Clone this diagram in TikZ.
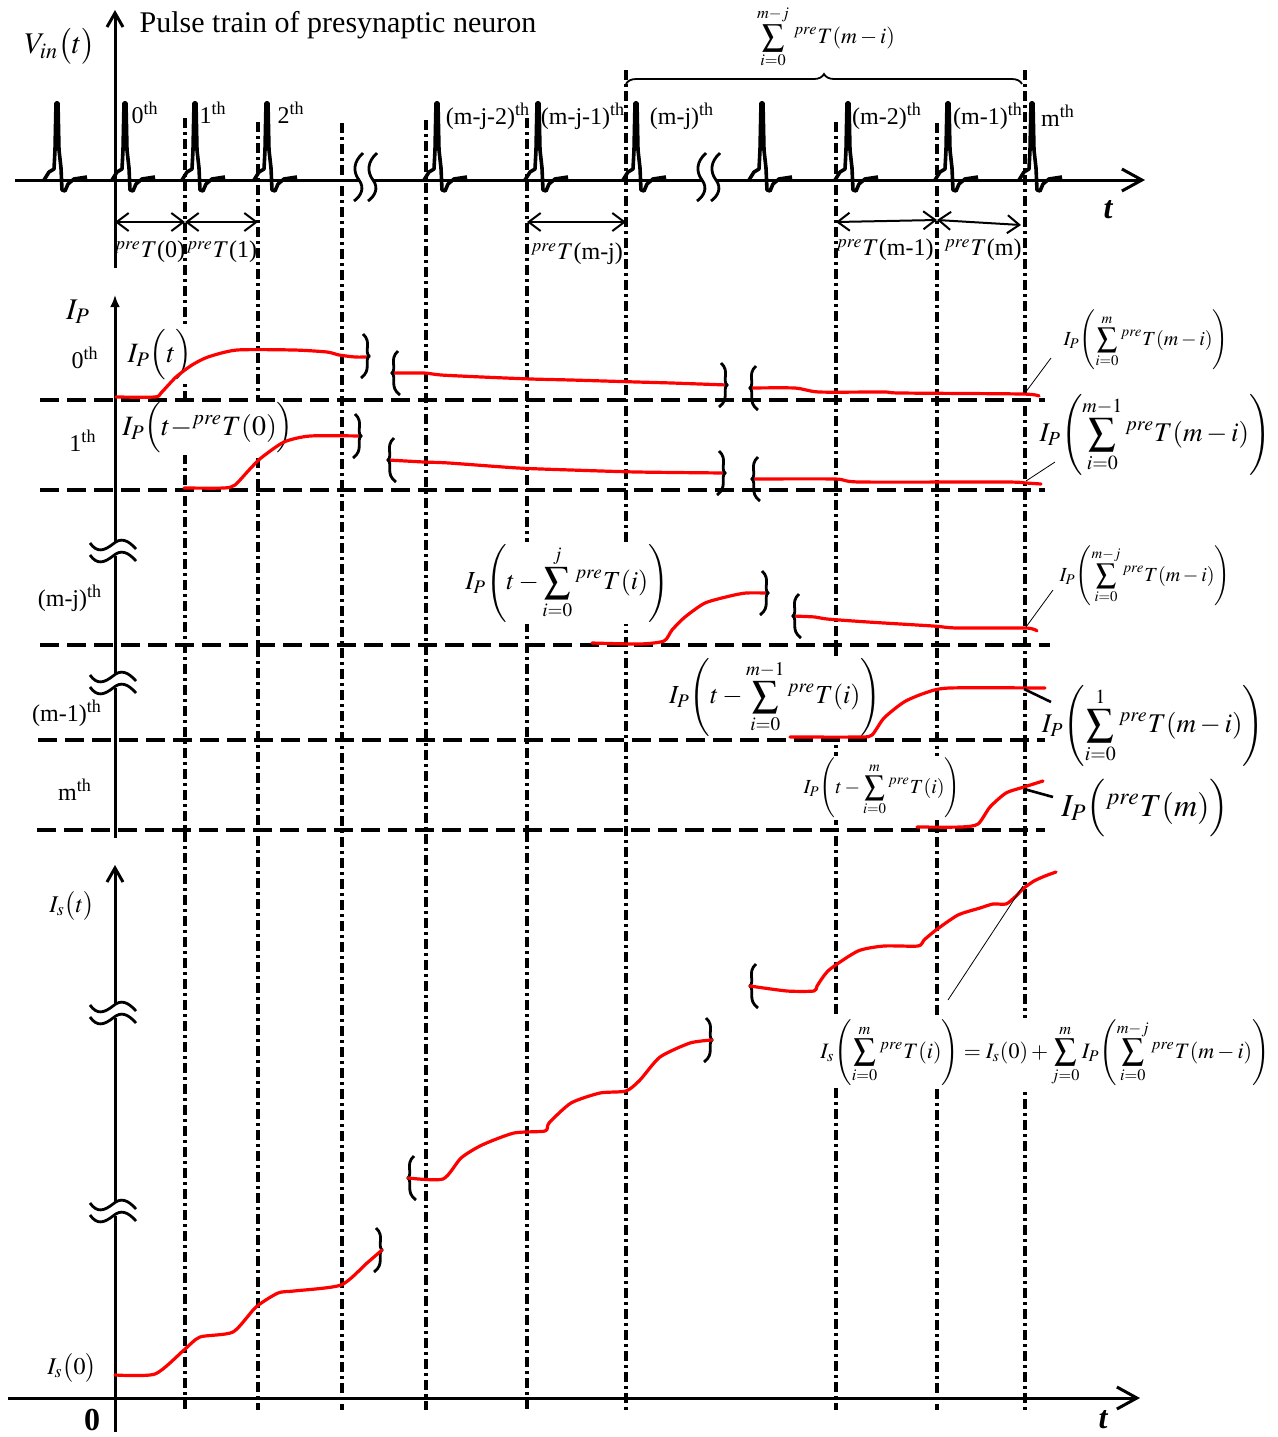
\documentclass[tikz,border=0pt]{standalone}
\usepackage{mathptmx}
\usepackage{fontspec}
\setmainfont{Liberation Serif}
\usetikzlibrary{arrows.meta,decorations.pathreplacing}

\begin{document}
\begin{tikzpicture}[x=0.5pt, y=-0.5pt,
  every node/.style={font=\fontsize{12}{14}\selectfont, inner sep=1pt},
  ax/.style={line width=1.5pt},
  vl/.style={line width=1.7pt, dash pattern=on 5pt off 2pt on 1.5pt off 2pt},
  hl/.style={line width=1.7pt, dash pattern=on 9.5pt off 4pt},
  cv/.style={red, line width=1.6pt, line join=round, line cap=round},
  sp/.style={line width=1.8pt, line join=round},
  bk/.style={line width=1.4pt},
  dm/.style={line width=1pt, {Straight Barb[length=6pt,width=9pt]}-{Straight Barb[length=6pt,width=9pt]}},
  ptr/.style={line width=0.4pt},
  ptk/.style={line width=1.3pt},
  wl/.style={fill=white}]

\fill[white] (0,0) rectangle (1278,1437);
\useasboundingbox (0,0) rectangle (1278,1437);

% ---------------- time grid ----------------
\foreach \x/\y in {185/118,258/122,342/123,426/120,527/118,626/70,836/122,937/123,1025/70}
  \draw[vl] (\x,\y) -- (\x,1410);

% ---------------- pulse train ----------------
\draw[ax, -{Straight Barb[length=7pt,width=8pt]}] (115,268) -- (115,10);
\draw[ax] (15,180) -- (359,180);
\draw[ax] (373,180) -- (702,180);
\draw[ax, -{Straight Barb[length=10pt,width=11pt]}] (716,180) -- (1145,180);
\foreach \s in {357,371,700,714}
  \draw[bk] (\s+6,153) .. controls (\s-4,162) and (\s-4,172) .. (\s+2,180) .. controls (\s+8,188) and (\s+4,196) .. (\s-3,201);
\foreach \p in {57,125,195,267,437,538,636,762,848,948,1032}
  \draw[sp] (\p-13,180) -- (\p-8,172) -- (\p-3,169) -- (\p-2,150) -- (\p-1,103) -- (\p+1,103) -- (\p+2,150) -- (\p+4,168) -- (\p+5,190) -- (\p+8,191) -- (\p+11,184) -- (\p+17,179) -- (\p+30,177);

\node[font=\fontsize{15}{18}\selectfont, inner sep=0pt] (vin) at (60,46) {$V_{in}\bigl(t\bigr)$};
\node[font=\fontsize{15}{18}\selectfont] (ttl) at (338,25) {Pulse train of presynaptic neuron};
\node (k0) at (145,113) {0\textsuperscript{th}};
\node (k1) at (213,113) {1\textsuperscript{th}};
\node (k2) at (291,113) {2\textsuperscript{th}};
\node (k3) at (488,116) {(m-j-2)\textsuperscript{th}};
\node (k4) at (583,116) {(m-j-1)\textsuperscript{th}};
\node (k5) at (682,116) {(m-j)\textsuperscript{th}};
\node (k6) at (887,116) {(m-2)\textsuperscript{th}};
\node (k7) at (988,116) {(m-1)\textsuperscript{th}};
\node (k8) at (1058,116) {m\textsuperscript{th}};
\node[font=\fontsize{16}{18}\selectfont\bfseries\itshape] (tt) at (1108,210) {t};

% periods
\coordinate (d0) at (115,222);
\coordinate (d1) at (185,222);
\coordinate (d2) at (258,222);
\coordinate (d3) at (527,222);
\coordinate (d4) at (626,222);
\coordinate (d5) at (836,222);
\coordinate (d6) at (937,220);
\coordinate (d7) at (1021,225);
\draw[dm] (d0) -- (d1);
\draw[dm] (d1) -- (d2);
\draw[dm] (d3) -- (d4);
\draw[dm] (d5) -- (d6);
\draw[dm] (d6) -- (d7);
\node (q0) at (150,252) {${}^{pre}T$(0)};
\node (q1) at (222,252) {${}^{pre}T$(1)};
\node (q2) at (577,254) {${}^{pre}T$(m-j)};
\node (q3) at (885,250) {${}^{pre}T$(m-1)};
\node (q4) at (983,250) {${}^{pre}T$(m)};

% brace over the last m-j periods
\coordinate (bl) at (626,84);
\coordinate (br) at (1022,84);
\draw[line width=0.9pt, decorate, decoration={brace, amplitude=5pt}] (bl) -- (br);
\node[font=\fontsize{11}{13}\selectfont] (bs) at (826,37) {$\displaystyle\sum_{i=0}^{m-j}\,{}^{pre}T(m-i)$};

% ---------------- postsynaptic currents ----------------
\draw[ax] (115,838) -- (115,688);
\draw[ax] (115,675) -- (115,556);
\draw[ax, -{Latex[length=6pt,width=5pt]}] (115,543) -- (115,295);
\foreach \y in {543,555,675,687,1005,1017,1203,1215}
  \draw[bk] (90,\y) .. controls (97,\y+10) and (104,\y+8) .. (113,\y+1) .. controls (121,\y-6) and (128,\y-3) .. (136,\y+6);

\node[font=\fontsize{15}{18}\selectfont] (ip) at (78,312) {$I_P$};
\node (r0) at (85,358) {0\textsuperscript{th}};
\node (r1) at (83,441) {1\textsuperscript{th}};
\node (rj) at (70,598) {(m-j)\textsuperscript{th}};
\node (rm1) at (67,713) {(m-1)\textsuperscript{th}};
\node (rm) at (75,790) {m\textsuperscript{th}};

\node[wl, font=\fontsize{14}{16}\selectfont] (l0) at (160,355) {$I_P\Bigl(t\Bigr)$};
\node[wl, font=\fontsize{14}{16}\selectfont] (l1) at (208,428) {$I_P\Bigl(t{-}{}^{pre}T(0)\Bigr)$};
\node[wl, font=\fontsize{13}{15}\selectfont] (lj) at (567,583) {$I_P\!\left(t-\displaystyle\sum_{i=0}^{j}{}^{pre}T(i)\right)$};
\node[wl, font=\fontsize{13}{15}\selectfont] (lm1) at (775,697) {$I_P\!\left(t-\displaystyle\sum_{i=0}^{m-1}{}^{pre}T(i)\right)$};
\node[wl, font=\fontsize{10}{12}\selectfont] (lm) at (882,788) {$I_P\!\left(t-\displaystyle\sum_{i=0}^{m}{}^{pre}T(i)\right)$};

\foreach \y/\a/\b in {400/40/1045,490/40/1045,645/40/1050,740/38/1045,830/37/1045}
  \draw[hl] (\a,\y) -- (\b,\y);

\draw[cv] plot[smooth, tension=0.4] coordinates {(116,397) (155,397) (161,393) (176,377) (192,365) (208,357) (237,350) (294,350) (327,352) (339,355) (355,357) (369,357)};
\draw[cv] plot[smooth, tension=0.4] coordinates {(392,373) (424,373) (441,375) (482,377) (531,379) (571,380) (637,382) (672,383) (727,385)};
\draw[cv] plot[smooth, tension=0.4] coordinates {(750,388) (795,388) (819,392) (884,392) (900,393) (1022,394) (1039,396)};
\draw[cv] plot[smooth, tension=0.4] coordinates {(184,488) (224,488) (235,485) (249,470) (261,458) (284,442) (310,436) (361,436)};
\draw[cv] plot[smooth, tension=0.4] coordinates {(388,460) (424,462) (449,463) (518,468) (571,470) (637,472) (725,473)};
\draw[cv] plot[smooth, tension=0.4] coordinates {(752,479) (835,479) (860,482) (1006,482) (1026,483) (1041,484)};
\draw[cv] plot[smooth, tension=0.4] coordinates {(592,643) (640,644) (664,641) (672,630) (685,617) (705,603) (730,596) (746,593) (768,593)};
\draw[cv] plot[smooth, tension=0.4] coordinates {(793,616) (815,617) (827,619) (868,622) (933,626) (957,628) (1026,628) (1037,631)};
\draw[cv] plot[smooth, tension=0.4] coordinates {(790,737) (860,737) (872,735) (884,718) (904,702) (925,693) (949,688) (1045,688)};
\draw[cv] plot[smooth, tension=0.4] coordinates {(917,827) (961,827) (978,824) (990,807) (1006,793) (1024,787) (1043,781)};

% breaks of the current curves
\foreach \x/\y in {365/356,723/385,357/436,721/473,764/593,378/1250,708/1040}
  \draw[bk] (\x-2,\y-22) .. controls (\x+7,\y-14) and (\x-1,\y-5) .. (\x+4,\y) .. controls (\x-1,\y+5) and (\x+7,\y+14) .. (\x-4,\y+22);
\foreach \x/\y in {396/373,754/388,392/460,756/479,797/616,412/1178,754/986}
  \draw[bk] (\x+2,\y-22) .. controls (\x-7,\y-14) and (\x+1,\y-5) .. (\x-4,\y) .. controls (\x+1,\y+5) and (\x-7,\y+14) .. (\x+4,\y+22);

% values at the m-th spike
\node[font=\fontsize{10}{12}\selectfont] (v0) at (1146,340) {$I_P\!\left(\displaystyle\sum_{i=0}^{m}{}^{pre}T(m-i)\right)$};
\node[font=\fontsize{13.5}{16}\selectfont] (v1) at (1155,435) {$I_P\!\left(\displaystyle\sum_{i=0}^{m-1}{}^{pre}T(m-i)\right)$};
\node[font=\fontsize{10}{12}\selectfont] (vj) at (1145,576) {$I_P\!\left(\displaystyle\sum_{i=0}^{m-j}{}^{pre}T(m-i)\right)$};
\node[font=\fontsize{13.5}{16}\selectfont] (vm1) at (1153,726) {$I_P\!\left(\displaystyle\sum_{i=0}^{1}{}^{pre}T(m-i)\right)$};
\node[font=\fontsize{16}{18}\selectfont] (vm) at (1145,808) {$I_P\Bigl({}^{pre}T(m)\Bigr)$};

\coordinate (e0) at (1025,393);
\coordinate (e1) at (1026,481);
\coordinate (ej) at (1026,627);
\coordinate (em1) at (1024,689);
\coordinate (em) at (1024,789);
\coordinate (f0) at (1051,358);
\coordinate (f1) at (1055,462);
\coordinate (fj) at (1053,590);
\coordinate (fm1) at (1051,702);
\coordinate (fm) at (1053,797);
\draw[ptr] (e0) -- (f0);
\draw[ptr] (e1) -- (f1);
\draw[ptr] (ej) -- (fj);
\draw[ptk] (em1) -- (fm1);
\draw[ptk] (em) -- (fm);

% ---------------- synaptic current ----------------
\draw[ax] (115,1432) -- (115,1216);
\draw[ax] (115,1203) -- (115,1018);
\draw[ax, -{Straight Barb[length=7pt,width=8pt]}] (115,1005) -- (115,865);
\draw[ax, -{Straight Barb[length=10pt,width=11pt]}] (8,1398) -- (1140,1398);

\node[font=\fontsize{12}{14}\selectfont] (ist) at (72,906) {$I_s\bigl(t\bigr)$};
\node[font=\fontsize{12}{14}\selectfont] (is0) at (72,1368) {$I_s\bigl(0\bigr)$};
\node[font=\fontsize{16}{18}\selectfont\bfseries] (zr) at (92,1420) {0};
\node[font=\fontsize{16}{18}\selectfont\bfseries\itshape] (tb) at (1103,1420) {t};

\node[wl, font=\fontsize{11}{13}\selectfont] (sumf) at (1045,1053) {$I_s\!\left(\displaystyle\sum_{i=0}^{m}{}^{pre}T(i)\right)=I_s(0)+\displaystyle\sum_{j=0}^{m}I_P\!\left(\displaystyle\sum_{i=0}^{m-j}{}^{pre}T(m-i)\right)$};

\draw[cv] plot[smooth, tension=0.4] coordinates {(115,1375) (155,1374) (184,1350) (200,1337) (233,1332) (256,1307) (278,1293) (294,1291) (341,1285) (367,1263) (382,1250)};
\draw[cv] plot[smooth, tension=0.4] coordinates {(408,1178) (443,1179) (461,1158) (482,1145) (514,1133) (545,1131) (549,1123) (571,1103) (600,1093) (626,1091) (640,1080) (660,1057) (690,1043) (712,1040)};
\draw[cv] plot[smooth, tension=0.4] coordinates {(750,986) (787,991) (814,991) (817,986) (829,970) (858,951) (884,946) (918,946) (924,940) (936,930) (958,915) (980,908) (993,904) (1006,904) (1015,897) (1024,888) (1034,881) (1045,876) (1056,872)};

\coordinate (es) at (1023,886);
\coordinate (fs) at (948,1000);
\draw[ptr] (es) -- (fs);
\end{tikzpicture}
\end{document}
